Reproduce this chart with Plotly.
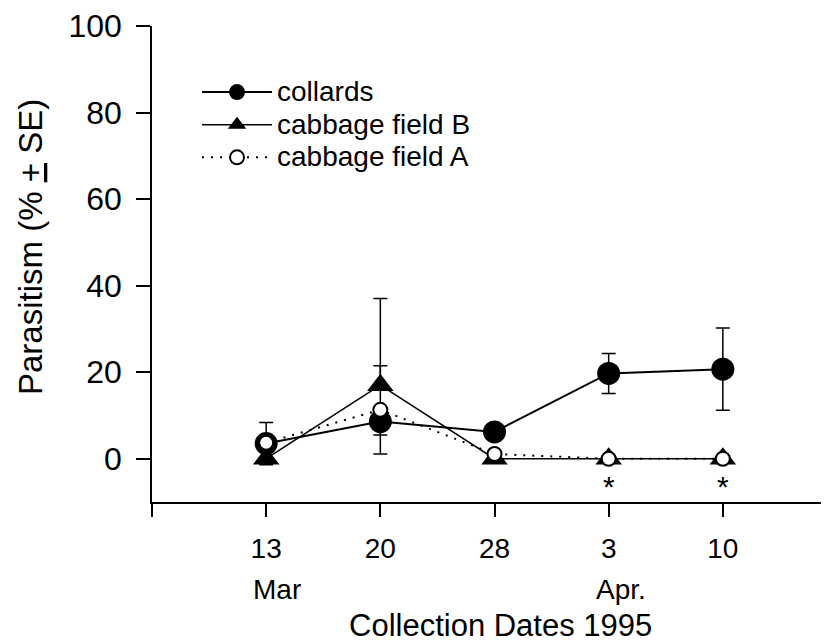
import plotly.graph_objects as go

# ---- data ----
dates = ["13", "20", "28", "3", "10"]
months = ["Mar", "", "", "Apr.", ""]
collards = [3.5, 8.6, 6.2, 19.7, 20.7]
collards_se = [4.9, 3.1, 0.0, 4.6, 9.5]
cabbage_b = [0.0, 17.0, 0.0, 0.0, 0.0]
cabbage_b_se_up = [0.0, 20.0, 0.0, 0.0, 0.0]
cabbage_b_se_down = [0.0, 0.0, 0.0, 0.0, 0.0]
cabbage_a = [3.7, 11.3, 1.1, 0.0, 0.0]
cabbage_a_se = [0.0, 10.2, 0.0, 0.0, 0.0]
significant = ["", "", "", "*", "*"]
y_ticks = [0, 20, 40, 60, 80, 100]

pos = list(range(1, len(dates) + 1))
FONT = "Liberation Sans, Arial, Helvetica, sans-serif"
LEG = '<span style="font-size:28px">{}</span>'

fig = go.Figure()

fig.add_trace(go.Scatter(
    x=pos, y=collards, name=LEG.format("collards"), mode="lines+markers",
    line=dict(color="black", width=2),
    marker=dict(symbol="circle", size=23, color="black"),
    error_y=dict(type="data", array=collards_se, color="black", thickness=1.5, width=7),
))
fig.add_trace(go.Scatter(
    x=pos, y=cabbage_b, name=LEG.format("cabbage field B"), mode="lines+markers",
    line=dict(color="black", width=1.5),
    marker=dict(symbol="triangle-up", size=23, color="black"),
    error_y=dict(type="data", symmetric=False, array=cabbage_b_se_up,
                 arrayminus=cabbage_b_se_down, color="black", thickness=1.5, width=7),
))
fig.add_trace(go.Scatter(
    x=pos, y=cabbage_a, name=LEG.format("cabbage field A"), mode="lines+markers",
    line=dict(color="black", width=2, dash="2px,7px"),
    marker=dict(symbol="circle", size=14, color="white", line=dict(color="black", width=2)),
    error_y=dict(type="data", array=cabbage_a_se, color="black", thickness=1.5, width=7),
))

annotations = []
for p, s in zip(pos, significant):
    if s:
        annotations.append(dict(x=p, y=-6.4, xref="x", yref="y", text=s, showarrow=False,
                                font=dict(family=FONT, size=30, color="black"),
                                xanchor="center", yanchor="middle"))
for p, m in zip(pos, months):
    if m:
        annotations.append(dict(x=p, y=0, xref="x", yref="paper", text=m, showarrow=False,
                                font=dict(family=FONT, size=28, color="black"),
                                xanchor="left", yanchor="middle", xshift=-15, yshift=-87))
annotations.append(dict(x=0.5, y=0, xref="paper", yref="paper", text="Collection Dates 1995",
                        showarrow=False, font=dict(family=FONT, size=31, color="black"),
                        xanchor="center", yanchor="middle", xshift=10, yshift=-123))
annotations.append(dict(x=0, y=0.5, xref="paper", yref="paper",
                        text="Parasitism (% <u>+</u> SE)", textangle=-90,
                        showarrow=False, font=dict(family=FONT, size=33, color="black"),
                        xanchor="center", yanchor="middle", xshift=-122, yshift=17))

fig.update_layout(
    width=821, height=636,
    margin=dict(l=144, r=0, t=18, b=142),
    paper_bgcolor="white", plot_bgcolor="white",
    font=dict(family=FONT, color="black"),
    showlegend=True,
    legend=dict(x=0.0665, y=0.906, xanchor="left", yanchor="top",
                font=dict(family=FONT, size=22.8, color="black"),
                bgcolor="rgba(0,0,0,0)", itemwidth=70, tracegroupgap=0),
    annotations=annotations,
)
fig.update_xaxes(
    range=[0, 5.93], tickvals=[0] + pos, ticktext=[""] + dates,
    showline=True, linecolor="black", linewidth=1.5,
    ticks="outside", ticklen=13, tickwidth=1.5, tickcolor="black",
    tickfont=dict(family=FONT, size=28, color="black"),
    showgrid=False, zeroline=False, ticklabelstandoff=8,
)
fig.update_yaxes(
    range=[-10, 100], tickvals=y_ticks,
    showline=True, linecolor="black", linewidth=1.5,
    ticks="outside", ticklen=14, tickwidth=1.5, tickcolor="black",
    tickfont=dict(family=FONT, size=32, color="black"),
    showgrid=False, zeroline=False, ticklabelstandoff=8,
)

fig.write_html("out.html")
